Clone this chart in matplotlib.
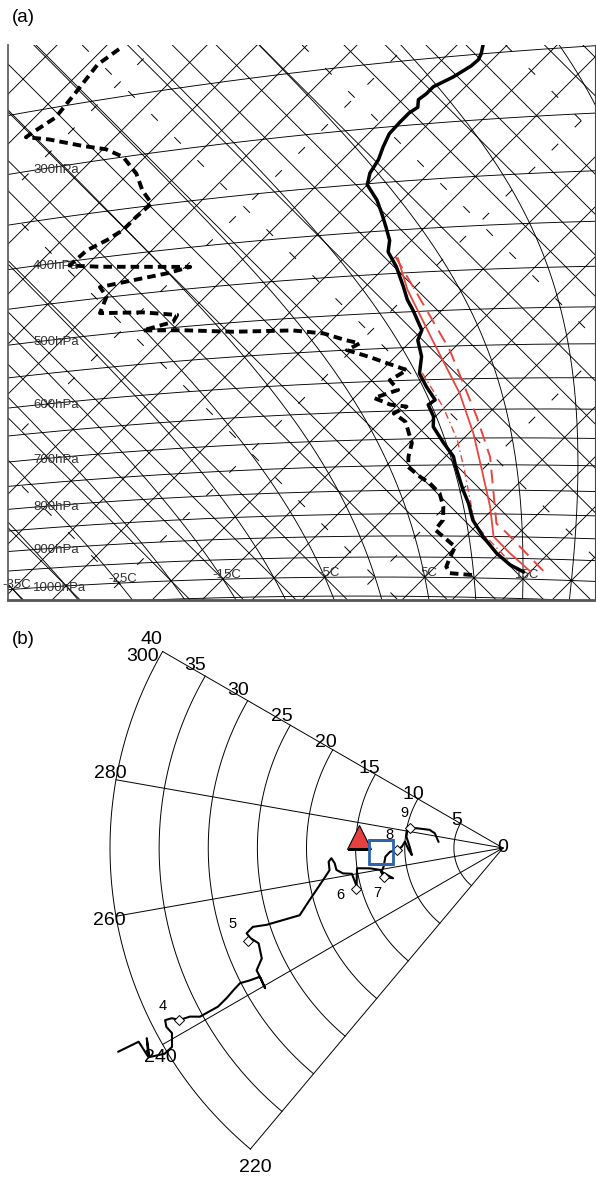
import numpy as np
import matplotlib.pyplot as plt

plt.rcParams['font.family'] = ['Liberation Sans', 'DejaVu Sans']

# ---------------- (a) sounding: pressure (hPa) and temperature (C)
temp_p = [244, 250, 254, 258, 265, 271, 276, 280, 286, 290, 297, 306, 317, 328,
          340, 351, 367, 381, 396, 411, 424, 442, 467, 484, 498, 526, 540, 564,
          590, 611, 633, 641, 661, 679, 709, 734, 753, 800, 828, 864, 901, 939,
          966, 982]
temp_t = [-42.4, -41.7, -41.4, -41.5, -42.2, -43.2, -43.2, -43.4, -42.7, -43.0,
          -43.0, -42.9, -42.2, -41.4, -40.9, -40.0, -37.5, -35.7, -33.9, -32.2,
          -31.2, -28.9, -26.2, -24.5, -22.9, -20.0, -19.4, -17.4, -15.9, -13.9,
          -11.7, -11.9, -10.2, -9.2, -6.5, -4.2, -3.0, 0.1, 2.0, 4.1, 6.8, 9.8,
          12.3, 14.3]

dewp_p = [216, 224, 241, 258, 267, 270, 275, 285, 291, 300, 317, 334, 348, 360,
          372, 381, 390, 405, 411, 417, 423, 428, 432, 436, 449, 470, 475, 483,
          492, 500, 505, 513, 517, 524, 535, 541, 550, 562, 570, 584, 599, 615,
          627, 639, 643, 654, 669, 684, 708, 733, 753, 773, 786, 807, 835, 864,
          886, 909, 925, 949, 973, 989, 993]
dewp_t = [-78.4, -79.0, -78.4, -77.9, -78.7, -78.9, -76.4, -72.4, -69.7, -67.2,
          -64.2, -61.9, -59.7, -59.9, -59.9, -60.5, -61.5, -61.7, -58.5, -54.2,
          -49.5, -51.2, -53.9, -56.5, -54.9, -53.9, -49.7, -46.0, -45.7, -47.9,
          -43.9, -38.7, -32.9, -29.5, -26.7, -24.9, -25.5, -22.5, -20.7, -17.5,
          -18.2, -16.4, -18.0, -15.7, -13.9, -14.5, -12.5, -11.4, -9.7, -8.7,
          -7.7, -5.5, -3.9, -1.9, -0.2, 1.1, 1.3, 3.5, 5.0, 5.5, 6.1, 7.1, 9.6]

parcel_p = [432, 471, 541, 623, 692, 754, 835, 900, 938, 981]
parcel_t = [-29.6, -25.5, -17.9, -9.9, -4.5, -0.4, 4.5, 7.8, 11.1, 15.0]

parcel2_p = [430, 472, 556, 662, 735, 871, 892, 988]
parcel2_t = [-30.0, -24.7, -15.2, -5.9, -0.5, 6.8, 8.8, 17.0]

parcel3_p = [589, 645, 703, 753, 871, 901, 959]
parcel3_t = [-15.7, -10.2, -5.5, -2.2, 4.6, 7.1, 12.0]

isobar_labels = [300, 400, 500, 600, 700, 800, 900, 1000]
temp_labels = [-35, -25, -15, -5, 5, 15]

# ---------------- (b) hodograph: direction (deg) and speed
hodo_dir = [242.1, 242.0, 239.5, 241.9, 239.4, 238.7, 239.0, 240.8, 242.0, 243.0,
            242.8, 242.0, 241.7, 240.9, 240.9, 241.5, 242.2, 242.8, 242.4, 242.1,
            239.5, 242.1, 243.6, 245.4, 248.7, 250.4, 251.6, 252.5, 252.0, 251.7,
            254.9, 259.9, 262.7, 265.5, 266.6, 264.8, 262.5, 261.0, 260.3, 255.4,
            262.1, 261.3, 259.9, 256.5, 254.6, 259.0, 261.1, 265.8, 268.1, 268.9,
            270.7, 273.7, 268.8, 265.6, 270.8, 276.7, 281.8, 282.9, 283.9, 282.2,
            275.6]
hodo_spd = [44.3, 42.0, 41.9, 41.1, 41.8, 40.3, 39.3, 38.6, 38.8, 38.6,
            37.9, 37.3, 36.2, 35.3, 33.2, 32.0, 31.0, 30.1, 29.1, 28.0,
            28.1, 28.0, 28.0, 27.0, 26.7, 27.3, 27.5, 26.7, 25.3, 21.8,
            20.4, 18.6, 17.8, 17.8, 17.5, 17.2, 17.1, 16.5, 15.6, 15.4,
            15.0, 13.7, 12.7, 12.5, 11.6, 12.6, 12.3, 12.0, 11.5, 10.8,
            10.3, 10.0, 9.6, 9.3, 9.5, 9.9, 9.9, 9.0, 7.7, 7.1,
            6.6]

height_km = [4, 5, 6, 7, 8, 9]
height_dir = [242.0, 250.0, 254.2, 256.5, 268.9, 282.0]
height_spd = [37.3, 27.6, 15.5, 12.5, 10.8, 9.7]
height_off = [(-12, 10), (-11.5, 12), (-11.5, -4), (-4.3, -11.5), (-5.3, 10.8), (-4.1, 10.8)]

tri_dir, tri_spd = 274.5, 14.7
sq_dir, sq_spd = 267.9, 12.4

ring_speeds = [5, 10, 15, 20, 25, 30, 35, 40]
spoke_dirs = [220, 240, 260, 280, 300]

# ---------------- tephigram geometry
K0 = 273.15
KAPPA = 1 / 3.5
SQ2 = np.sqrt(2.0)


def tephi_tb(t_c, b):
    t_c = np.asarray(t_c, float)
    b = np.asarray(b, float)
    return (t_c + b) / SQ2, (b - t_c) / SQ2


def tephi(t_c, p):
    t_c = np.asarray(t_c, float)
    p = np.asarray(p, float)
    theta = (t_c + K0) * (1000.0 / p) ** KAPPA
    return tephi_tb(t_c, K0 * np.log(theta / K0))


def moist_adiabats(tw_list, p_top=150.0, p_bot=1100.0):
    Rd, cp, Lv, eps = 287.04, 1005.7, 2.501e6, 0.622

    def f(T, p):
        es = 6.112 * np.exp(17.67 * (T - K0) / (T - 29.65))
        rs = eps * es / (p - es)
        return (Rd * T + Lv * rs) / (cp + Lv ** 2 * rs * eps / (Rd * T ** 2))

    def run(lnp):
        T = np.array(tw_list, float) + K0
        out = [T.copy()]
        for i in range(len(lnp) - 1):
            h = lnp[i + 1] - lnp[i]
            p0, pm, p1 = np.exp(lnp[i]), np.exp(lnp[i] + h / 2), np.exp(lnp[i + 1])
            k1 = f(T, p0)
            k2 = f(T + h / 2 * k1, pm)
            k3 = f(T + h / 2 * k2, pm)
            k4 = f(T + h * k3, p1)
            T = T + h / 6 * (k1 + 2 * k2 + 2 * k3 + k4)
            out.append(T.copy())
        return np.exp(lnp), np.array(out) - K0

    pu, tu = run(np.linspace(np.log(1000), np.log(p_top), 400))
    pd, td = run(np.linspace(np.log(1000), np.log(p_bot), 40))
    p = np.concatenate([pd[::-1], pu[1:]])
    t = np.concatenate([td[::-1], tu[1:]], axis=0)
    return p, t


fig = plt.figure(figsize=(5.96, 11.78), dpi=100)

# ---------------- panel (a)
axa = fig.add_axes([8 / 596, 1 - 600 / 1178, 587 / 596, 555 / 1178])
axa.set_xlim(-51.91, 31.12)
axa.set_ylim(-3.25, 75.25)
axa.set_xticks([])
axa.set_yticks([])
axa.spines['top'].set_visible(False)
axa.spines['left'].set_color('#555555')
axa.spines['left'].set_linewidth(1.2)
axa.spines['right'].set_color('#444444')
axa.spines['right'].set_linewidth(0.8)
axa.spines['bottom'].set_color('#555555')
axa.spines['bottom'].set_linewidth(2.0)

grid_kw = dict(color='black', lw=0.65, zorder=1)
dash_kw = dict(color='black', lw=0.7, zorder=1, dashes=(9.5, 24))

bb = np.array([-120.0, 220.0])
for t in range(-125, 51, 5):
    x, y = tephi_tb([t, t], bb)
    axa.plot(x, y, **(dash_kw if t % 25 == 0 else grid_kw))

aa = np.array([-160.0, 80.0])
for th in range(-60, 161, 5):
    b = K0 * np.log((th + K0) / K0)
    x, y = tephi_tb(aa, [b, b])
    axa.plot(x, y, **(dash_kw if th % 25 == 0 else grid_kw))

tt = np.linspace(-150, 60, 300)
for p in range(1050, 149, -50):
    x, y = tephi(tt, np.full_like(tt, p))
    axa.plot(x, y, **grid_kw)

mp, mt = moist_adiabats(np.arange(-40, 41, 5))
for j in range(mt.shape[1]):
    x, y = tephi(mt[:, j], mp)
    axa.plot(x, y, **grid_kw)

# labels
xl = axa.get_xlim()[0] + 25 / 7.07
for p in isobar_labels:
    x, y = tephi(tt, np.full_like(tt, p))
    yy = np.interp(xl, x, y)
    axa.text(xl, yy, f'{p}hPa', ha='left', va='center', fontsize=9.5,
             color='#333333', zorder=3)
for t in temp_labels:
    x, y = tephi(t, 1000)
    axa.annotate(f'{t}C', (x, y), xytext=(3, 3), textcoords='offset points',
                 ha='center', va='center', fontsize=9.5, color='#333333', zorder=3)

# profiles
red = '#e8453f'
x, y = tephi(parcel_t, parcel_p)
axa.plot(x, y, color=red, lw=1.3, zorder=4)
x, y = tephi(parcel2_t, parcel2_p)
axa.plot(x, y, color=red, lw=1.4, dashes=(7, 4), zorder=4)
x, y = tephi(parcel3_t, parcel3_p)
axa.plot(x, y, color=red, lw=1.0, dashes=(5, 2.5, 1, 2.5), zorder=4)
x, y = tephi(dewp_t, dewp_p)
axa.plot(x, y, color='black', lw=2.8, dashes=(2.2, 1.3), zorder=5)
x, y = tephi(temp_t, temp_p)
axa.plot(x, y, color='black', lw=2.5, zorder=5, solid_joinstyle='round')

fig.text(12 / 596, 1 - 18 / 1178, '(a)', ha='left', va='center', fontsize=13.5)

# ---------------- panel (b)
R_MAX = 46
rad_px = 393 / 40 * R_MAX
axb = fig.add_axes([(503 - rad_px) / 596, 1 - (848 + rad_px) / 1178,
                    2 * rad_px / 596, 2 * rad_px / 1178], projection='polar')
axb.set_theta_zero_location('N')
axb.set_theta_direction(-1)
axb.set_ylim(0, R_MAX)
axb.axis('off')

arc = np.radians(np.linspace(min(spoke_dirs), max(spoke_dirs), 200))
for r in ring_speeds:
    axb.plot(arc, np.full_like(arc, r), color='black', lw=0.7)
for d in spoke_dirs:
    axb.plot([np.radians(d)] * 2, [0, max(ring_speeds)], color='black', lw=0.7)

axb.text(0, 0, '0', ha='center', va='center', fontsize=14)
for r in ring_speeds:
    axb.text(np.radians(300.7), r + 0.25 + 0.035 * r, str(r), ha='center',
             va='center', fontsize=14)
dir_lab_pos = {300: (298.0, 41.5), 280: (280.8, 40.7), 260: (259.6, 40.7),
               240: (238.5, 40.9), 220: (217.8, 41.2)}
for d in spoke_dirs:
    th, r = dir_lab_pos[d]
    axb.text(np.radians(th), r, str(d), ha='center', va='center', fontsize=14)

axb.plot(np.radians(hodo_dir), hodo_spd, color='black', lw=1.5, zorder=3)
axb.plot(np.radians(height_dir), height_spd, ls='none', marker='D', ms=5.5,
         mfc='white', mec='black', mew=0.7, zorder=4)
for h, d, s, off in zip(height_km, height_dir, height_spd, height_off):
    axb.annotate(str(h), (np.radians(d), s), xytext=off, textcoords='offset points',
                 ha='center', va='center', fontsize=10.5)
axb.plot(np.radians(tri_dir), tri_spd, marker='^', ms=17, mfc='#e8403f',
         mec='black', mew=0.8, zorder=5)
axb.plot(np.radians(sq_dir), sq_spd, marker='s', ms=17, mfc='none',
         mec='#2d63b0', mew=2.0, zorder=5)

fig.text(12 / 596, 1 - 640 / 1178, '(b)', ha='left', va='center', fontsize=13.5)

fig.savefig('out.png', dpi=100)
